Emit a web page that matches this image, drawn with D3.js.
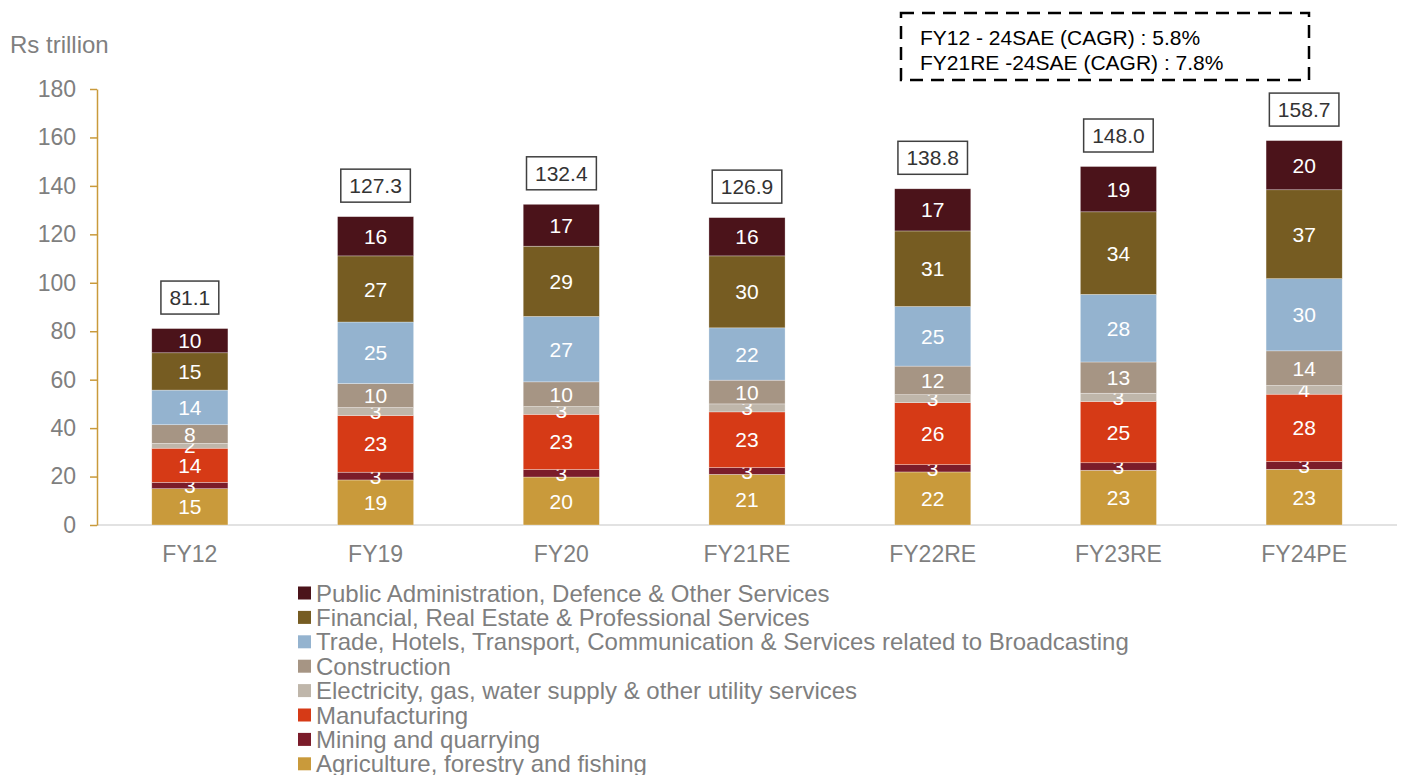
<!DOCTYPE html>
<style>
body { margin: 0; background: #fff; }
text { font-family: "Liberation Sans", Arial, sans-serif; }
.axis .domain { stroke: #c99a3b; }
.axis line { stroke: #c99a3b; }
</style>
<svg width="1402" height="775"></svg>
<script src="https://d3js.org/d3.v7.min.js"></script>
<script>

var years = ["FY12", "FY19", "FY20", "FY21RE", "FY22RE", "FY23RE", "FY24PE"];

// bottom to top
var sectors = [
  "Agriculture, forestry and fishing",
  "Mining and quarrying",
  "Manufacturing",
  "Electricity, gas, water supply & other utility services",
  "Construction",
  "Trade, Hotels, Transport, Communication & Services related to Broadcasting",
  "Financial, Real Estate & Professional Services",
  "Public Administration, Defence & Other Services"
];

var agriculture   = [15.0, 18.6, 19.8, 20.9, 21.9, 22.6, 23.0];
var mining        = [2.6, 3.2, 3.1, 2.8, 3.0, 3.1, 3.2];
var manufacturing = [14.1, 23.4, 22.8, 23.0, 25.6, 25.3, 27.8];
var electricity   = [2.0, 3.3, 3.2, 3.3, 3.3, 3.4, 3.6];
var construction  = [7.7, 9.9, 10.2, 9.8, 11.8, 12.9, 14.3];
var trade         = [14.3, 25.4, 27.0, 21.6, 24.6, 27.9, 29.8];
var financial     = [15.4, 27.3, 29.0, 29.7, 31.2, 34.1, 36.7];
var publicAdmin   = [10.0, 16.2, 17.3, 15.8, 17.4, 18.7, 20.3];

var totals = [81.1, 127.3, 132.4, 126.9, 138.8, 148.0, 158.7];

var yTicks = [0, 20, 40, 60, 80, 100, 120, 140, 160, 180];

var cagrLines = ["FY12 - 24SAE (CAGR) : 5.8%", "FY21RE -24SAE (CAGR) : 7.8%"];

var colors = ["#c99a3b", "#7b1c2a", "#d63a16", "#bfb6aa", "#a69584", "#94b3cf", "#765c22", "#4b131a"];

var series = [agriculture, mining, manufacturing, electricity, construction, trade, financial, publicAdmin];

var data = years.map(function(y, i) {
  var d = {year: y};
  sectors.forEach(function(s, j) { d[s] = series[j][i]; });
  return d;
});

var svg = d3.select("svg"),
    margin = {top: 89, right: 5, bottom: 250, left: 97},
    width = +svg.attr("width") - margin.left - margin.right,
    height = +svg.attr("height") - margin.top - margin.bottom,
    g = svg.append("g").attr("transform", "translate(" + margin.left + "," + margin.top + ")");

var x = d3.scaleBand().domain(years).range([0, width]).paddingInner(0.59).paddingOuter(0.295);
var y = d3.scaleLinear().domain([0, 180]).range([height, 0]);
var z = d3.scaleOrdinal().domain(sectors).range(colors);

var stacked = d3.stack().keys(sectors)(data);

// x axis line
g.append("line")
    .attr("x1", 0).attr("x2", width)
    .attr("y1", height).attr("y2", height)
    .attr("stroke", "#d9d9d9").attr("stroke-width", 1.5);

var layer = g.append("g").selectAll("g")
  .data(stacked)
  .enter().append("g")
    .attr("fill", function(d) { return z(d.key); });

layer.selectAll("rect")
  .data(function(d) { return d; })
  .enter().append("rect")
    .attr("x", function(d) { return x(d.data.year); })
    .attr("y", function(d) { return y(d[1]); })
    .attr("width", x.bandwidth())
    .attr("height", function(d) { return y(d[0]) - y(d[1]); })
    .attr("stroke", "#fff")
    .attr("stroke-opacity", 0.5)
    .attr("stroke-width", 0.6);

layer.selectAll("text")
  .data(function(d) { return d; })
  .enter().append("text")
    .attr("x", function(d) { return x(d.data.year) + x.bandwidth() / 2; })
    .attr("y", function(d) { return (y(d[0]) + y(d[1])) / 2; })
    .attr("dy", "0.36em")
    .attr("text-anchor", "middle")
    .attr("fill", "#fff")
    .attr("font-size", 21)
    .text(function(d) { return Math.round(d[1] - d[0]); });

// total boxes
var tot = g.append("g").selectAll("g")
  .data(totals)
  .enter().append("g")
    .attr("transform", function(d, i) {
      return "translate(" + (x(years[i]) + x.bandwidth() / 2) + "," + (y(d) - 31) + ")";
    });

tot.append("text")
    .attr("text-anchor", "middle")
    .attr("dy", "0.36em")
    .attr("font-size", 21)
    .attr("fill", "#333")
    .text(function(d) { return d.toFixed(1); });

tot.each(function() {
  var bb = d3.select(this).select("text").node().getBBox();
  d3.select(this).insert("rect", "text")
    .attr("x", bb.x - 8.5).attr("y", -16.5)
    .attr("width", bb.width + 17).attr("height", 33)
    .attr("fill", "#fff").attr("stroke", "#404040").attr("stroke-width", 1.5);
});

// y axis
var yAxis = g.append("g")
    .attr("class", "axis")
    .call(d3.axisLeft(y).tickValues(yTicks).tickSize(7).tickSizeOuter(0).tickPadding(14));
yAxis.selectAll("text").attr("font-size", 23).attr("fill", "#7f7f7f").attr("font-family", null);
yAxis.select(".domain").attr("stroke-width", 1.5);
yAxis.selectAll("line").attr("stroke-width", 1.5);

// x labels
g.append("g").selectAll("text")
  .data(years)
  .enter().append("text")
    .attr("x", function(d) { return x(d) + x.bandwidth() / 2; })
    .attr("y", height + 37)
    .attr("text-anchor", "middle")
    .attr("font-size", 23)
    .attr("fill", "#7f7f7f")
    .text(function(d) { return d; });

svg.append("text")
    .attr("x", 10).attr("y", 53)
    .attr("font-size", 24)
    .attr("fill", "#7f7f7f")
    .text("Rs trillion");

// CAGR box
svg.append("rect")
    .attr("x", 901).attr("y", 13)
    .attr("width", 408).attr("height", 67)
    .attr("fill", "none")
    .attr("stroke", "#000")
    .attr("stroke-width", 2.5)
    .attr("stroke-dasharray", "13,8");

svg.append("g").selectAll("text")
  .data(cagrLines)
  .enter().append("text")
    .attr("x", 920)
    .attr("y", function(d, i) { return 45 + i * 25; })
    .attr("font-size", 21)
    .attr("fill", "#000")
    .text(function(d) { return d; });

// legend
var legend = svg.append("g").selectAll("g")
  .data(sectors.slice().reverse())
  .enter().append("g")
    .attr("transform", function(d, i) { return "translate(298," + (593 + i * 24.4) + ")"; });

legend.append("rect")
    .attr("x", 0).attr("y", -6.5)
    .attr("width", 13).attr("height", 13)
    .attr("fill", z);

legend.append("text")
    .attr("x", 18)
    .attr("dy", "0.36em")
    .attr("font-size", 24)
    .attr("fill", "#7f7f7f")
    .text(function(d) { return d; });

</script>
